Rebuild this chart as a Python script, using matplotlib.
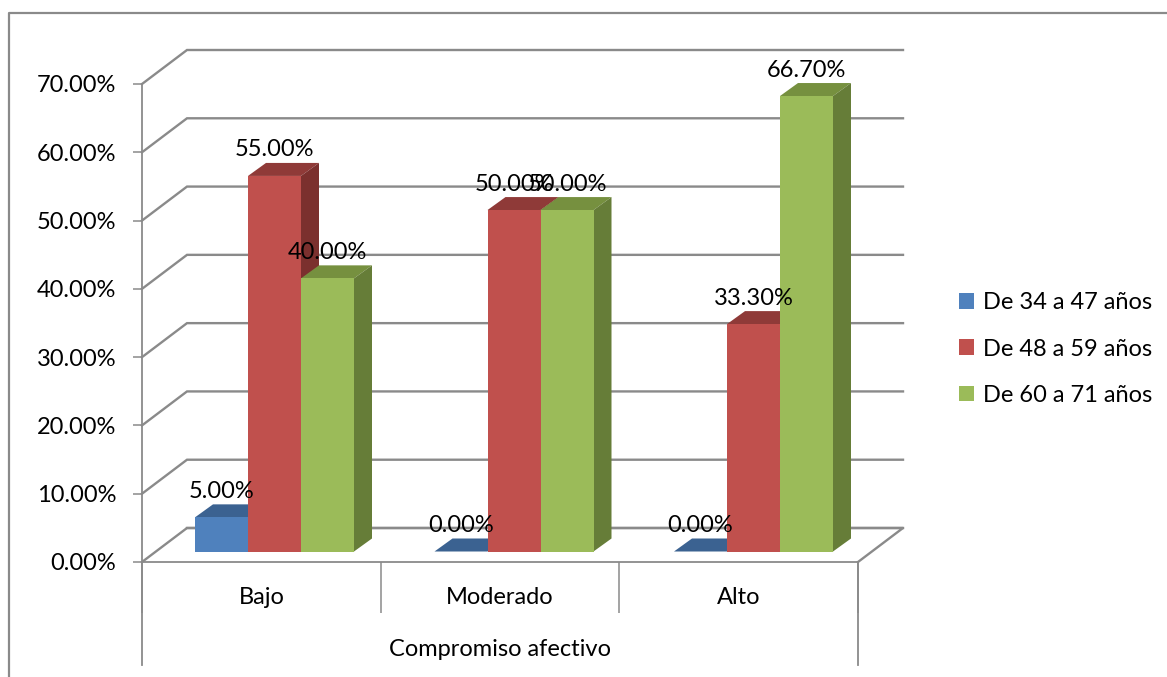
import matplotlib
matplotlib.use('Agg')
import matplotlib.pyplot as plt
from matplotlib.patches import Patch
from matplotlib.lines import Line2D
import numpy as np

plt.rcParams['font.family'] = ['Lato', 'DejaVu Sans']

# data
categorias = ['Bajo', 'Moderado', 'Alto']
grupo_1 = [5.0, 0.0, 0.0]
grupo_2 = [55.0, 50.0, 33.3]
grupo_3 = [40.0, 50.0, 66.7]
series = [grupo_1, grupo_2, grupo_3]
nombres = ['De 34 a 47 años', 'De 48 a 59 años', 'De 60 a 71 años']
ticks_y = [0, 10, 20, 30, 40, 50, 60, 70]

# colours: front, top, side
frente = ['#4F81BD', '#C0504D', '#9BBB59']
arriba = ['#3B6291', '#8F3A38', '#76903F']
lado = ['#3B6291', '#7B302E', '#667D38']
gris = '#8A8A8A'

W, H = 1167, 677
fig = plt.figure(figsize=(W/100, H/100), dpi=100)
ax = fig.add_axes([142/W, (H-562)/H, 716/W, 478/H])
ax.set_xlim(0, 3)
ax.set_ylim(0, 70)

# size of one pixel in data units
px = 3/716
py = 70/478

# depth of the wall and of the bars
dx_pared, dy_pared = 45*px, 34*py
dx_barra, dy_barra = 18*px, 13*py
ancho = 53*px
inicio = 53*px
paso = 239.5*px
suelo = 10.5*py
tam = 17

# walls and floor
for v in ticks_y:
    ax.plot([0, dx_pared, 3+dx_pared], [v, v+dy_pared, v+dy_pared], color=gris, lw=1.7,
            clip_on=False, zorder=1, solid_joinstyle='miter')
ax.plot([3, 3+dx_pared, dx_pared], [0, dy_pared, dy_pared], color=gris, lw=1.7,
        clip_on=False, zorder=1)

# 3D bars, drawn left to right so each front face hides the previous side
orden = 2
for c in range(len(categorias)):
    for s in range(len(series)):
        v = series[s][c]
        x0 = c*paso + inicio + s*ancho
        x1 = x0 + ancho
        ax.fill([x0, x0+dx_barra, x1+dx_barra, x1],
                [suelo+v, suelo+v+dy_barra, suelo+v+dy_barra, suelo+v],
                color=arriba[s], lw=0, clip_on=False, zorder=orden)
        ax.fill([x1, x1+dx_barra, x1+dx_barra, x1],
                [suelo, suelo+dy_barra, suelo+v+dy_barra, suelo+v],
                color=lado[s], lw=0, clip_on=False, zorder=orden)
        ax.bar(x0, v, width=ancho, bottom=suelo, align='edge', color=frente[s], lw=0,
               clip_on=False, zorder=orden+1)
        orden += 2

# value labels
for c in range(len(categorias)):
    for s in range(len(series)):
        v = series[s][c]
        ax.annotate(f'{v:.2f}%', (c*paso + inicio + (s+0.5)*ancho, suelo+v), xytext=(0, 26),
                    textcoords='offset pixels', ha='center', va='center', fontsize=tam,
                    color='black', zorder=100, annotation_clip=False)

# axes
for lado_eje in ['top', 'right']:
    ax.spines[lado_eje].set_visible(False)
for lado_eje in ['left', 'bottom']:
    ax.spines[lado_eje].set_color(gris)
    ax.spines[lado_eje].set_linewidth(1.3)
    ax.spines[lado_eje].set_zorder(1)
ax.patch.set_visible(False)

ax.set_yticks(ticks_y)
ax.set_yticklabels([f'{v:.2f}%' for v in ticks_y])
ax.tick_params(axis='y', length=6.5, width=1.1, color=gris, pad=12, labelsize=tam)
ax.set_xticks([0, 1, 2, 3])
ax.set_xticklabels([])
ax.tick_params(axis='x', which='major', length=37, width=1.1, color=gris)
ax.set_xticks([0.5, 1.5, 2.5], minor=True)
ax.set_xticklabels(categorias, minor=True, fontsize=tam)
ax.tick_params(axis='x', which='minor', length=0, pad=18)

# outer level of the category axis
ax.plot([0, 0], [0, -103*py], color=gris, lw=1.3, clip_on=False, zorder=1)
ax.plot([3, 3], [0, -103*py], color=gris, lw=1.3, clip_on=False, zorder=1)
ax.annotate('Compromiso afectivo', (1.5, 0), xytext=(0, -87), textcoords='offset pixels',
            ha='center', va='center', fontsize=tam, annotation_clip=False)

# chart border, only top and left edges show
fig.add_artist(Line2D([9/W, 9/W, 1], [0, (H-13)/H, (H-13)/H], color=gris, lw=1.6))

# legend
marcas = [Patch(color=frente[i], lw=0) for i in range(3)]
fig.legend(marcas, nombres, loc='center left', bbox_to_anchor=(959/W, (H-349)/H),
           frameon=False, fontsize=tam, handlelength=0.64, handleheight=0.64,
           handletextpad=0.36, labelspacing=1.07, borderpad=0, borderaxespad=0)

fig.savefig('out.png', dpi=100)
